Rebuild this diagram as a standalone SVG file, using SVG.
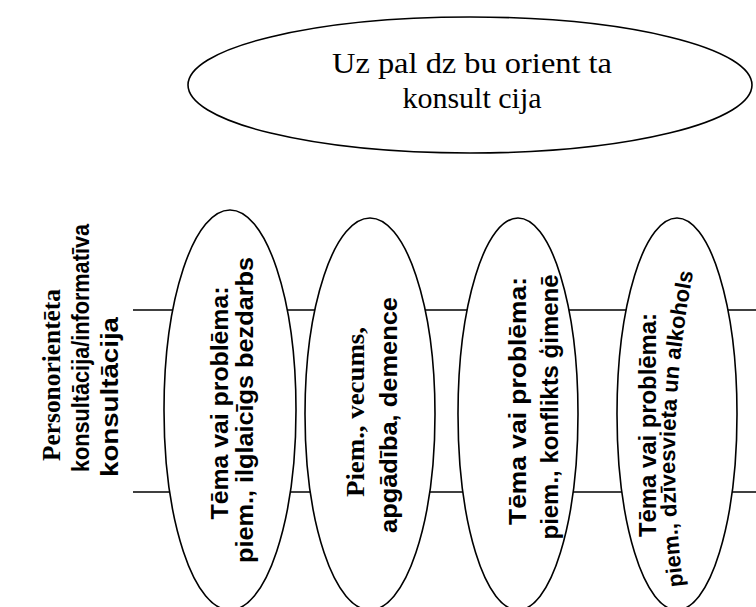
<svg xmlns="http://www.w3.org/2000/svg" width="756" height="607" viewBox="0 0 756 607">
<style>
.sh{fill:#fff;stroke:#000;stroke-width:1.6}
.ln{stroke:#000;stroke-width:1.5;fill:none}
.sb{font-family:"Liberation Sans",Arial,sans-serif;font-weight:bold;font-size:24px;fill:#000}
.rb{font-family:"Liberation Serif","Times New Roman",serif;font-weight:bold;font-size:25px;fill:#000}
.tt{font-family:"Liberation Serif","Times New Roman",serif;font-size:30px;fill:#000}
</style>
<rect width="756" height="607" fill="#fff"/>
<g id="connectors">
<line class="ln" x1="133" y1="310" x2="756" y2="310"/>
<line class="ln" x1="133" y1="492" x2="756" y2="492"/>
</g>
<g id="top">
<ellipse class="sh" cx="470" cy="85" rx="282" ry="68"/>
<text class="tt" x="472" y="73" text-anchor="middle" textLength="280" lengthAdjust="spacingAndGlyphs">Uz pal dz bu orient ta</text>
<text class="tt" x="472" y="108" text-anchor="middle">konsult cija</text>
</g>
<g id="label">
<text class="rb" transform="rotate(-90 60 375)" x="60" y="375" text-anchor="middle" textLength="172" lengthAdjust="spacingAndGlyphs">Personorientēta</text>
<text class="sb" transform="rotate(-90 89 348)" x="89" y="348" text-anchor="middle" textLength="248" lengthAdjust="spacingAndGlyphs">konsultācija/informatīva</text>
<text class="sb" transform="rotate(-90 118 397)" x="118" y="397" text-anchor="middle" textLength="160" lengthAdjust="spacingAndGlyphs">konsultācija</text>
</g>
<g id="n1">
<ellipse class="sh" cx="230" cy="410" rx="66" ry="200"/>
<text class="sb" transform="rotate(-90 228 403)" x="228" y="403" text-anchor="middle" textLength="233" lengthAdjust="spacingAndGlyphs">Tēma vai problēma:</text>
<text class="sb" transform="rotate(-90 253 410)" x="253" y="410" text-anchor="middle" textLength="306" lengthAdjust="spacingAndGlyphs">piem., ilglaicīgs bezdarbs</text>
</g>
<g id="n2">
<ellipse class="sh" cx="370" cy="414" rx="65" ry="196"/>
<text class="rb" transform="rotate(-90 364 412)" x="364" y="412" text-anchor="middle" textLength="170" lengthAdjust="spacingAndGlyphs">Piem., vecums,</text>
<text class="sb" transform="rotate(-90 397 415)" x="397" y="415" text-anchor="middle" textLength="236" lengthAdjust="spacingAndGlyphs">apgādība, demence</text>
</g>
<g id="n3">
<ellipse class="sh" cx="518" cy="414" rx="60" ry="196"/>
<text class="sb" transform="rotate(-90 526 401)" x="526" y="401" text-anchor="middle" textLength="248" lengthAdjust="spacingAndGlyphs">Tēma vai problēma:</text>
<text class="sb" transform="rotate(-90 558 407)" x="558" y="407" text-anchor="middle" textLength="265" lengthAdjust="spacingAndGlyphs">piem., konflikts ģimenē</text>
</g>
<g id="n4">
<ellipse class="sh" cx="677" cy="414" rx="60" ry="196"/>
<text class="sb" transform="rotate(-90 656 425)" x="656" y="425" text-anchor="middle" textLength="224" lengthAdjust="spacingAndGlyphs">Tēma vai problēma:</text>
<defs><path id="p4" d="M 684 590 Q 662 430 694 268"/></defs>
<text class="sb" style="font-size:22px"><textPath href="#p4" startOffset="50%" text-anchor="middle">piem., dzīvesvieta un alkohols</textPath></text>
</g>
</svg>
